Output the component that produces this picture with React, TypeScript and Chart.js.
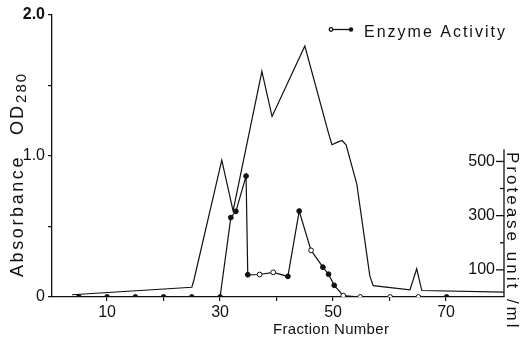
import React, { useEffect, useRef } from 'react';
import { Chart, registerables } from 'chart.js';

Chart.register(...registerables);

// ---- Data ----
// Absorbance (OD280) trace, fraction number vs absorbance
const absFraction = [3.8, 25.0, 25.4, 30.3, 32.3, 37.4, 39.2, 45.0, 49.2, 49.8, 50.9, 51.6, 52.3, 54.2, 56.5, 57.1, 63.6, 64.8, 65.7, 80.4];
const absValues = [0.016, 0.069, 0.126, 0.97, 0.61, 1.6, 1.28, 1.78, 1.16, 1.08, 1.1, 1.11, 1.08, 0.8, 0.15, 0.08, 0.05, 0.2, 0.046, 0.035];

// Enzyme activity (protease unit/ml), right axis
const enzFraction = [5, 10, 15, 20, 25, 30, 31.9, 32.8, 34.6, 34.9, 37.0, 39.4, 42.0, 44.0, 46.1, 48.2, 49.2, 50.2, 51.8, 54.8, 60.1, 65.1, 70.1];
const enzValues = [0, 0, 0, 0, 0, 0, 293, 316, 446, 82, 83, 91, 76, 317, 172, 110, 84, 43, 5, 0, 0, 0, 0];
const enzFilled = [1, 1, 1, 1, 1, 1, 1, 1, 1, 1, 0, 0, 1, 1, 0, 1, 1, 1, 0, 0, 0, 0, 1];

// Axes / ticks
const xTickValues = [10, 20, 30, 40, 50, 60, 70];
const xTickLabels: Record<number, string> = { 10: '10', 30: '30', 50: '50', 70: '70' };
const yTickValues = [0, 0.5, 1.0, 1.5, 2.0];
const yTickLabels: Record<number, string> = { 0: '0', 1: '1.0', 2: '2.0' };
const y2TickValues = [100, 200, 300, 400, 500];
const y2TickLabels: Record<number, string> = { 100: '100', 300: '300', 500: '500' };

const legendLabel = 'Enzyme Activity';
const xTitle = 'Fraction Number';
const yTitleMain = 'Absorbance';
const yTitleOD = 'OD';
const yTitleSub = '280';
const y2Title = 'Protease unit /ml';

const INK = '#111';
const FAM = '"Liberation Sans", Arial, sans-serif';

const decor = {
  id: 'decor',
  afterDraw(chart: any) {
    const ctx: CanvasRenderingContext2D = chart.ctx;
    const { right, bottom } = chart.chartArea;
    const y2 = chart.scales.y2;
    ctx.save();
    ctx.fillStyle = INK;
    ctx.strokeStyle = INK;

    // right axis line + ticks + labels
    ctx.lineWidth = 1.3;
    ctx.beginPath();
    ctx.moveTo(right, y2.getPixelForValue(545));
    ctx.lineTo(right, bottom);
    ctx.stroke();
    ctx.font = `16px ${FAM}`;
    ctx.textAlign = 'right';
    ctx.textBaseline = 'middle';
    for (const v of y2TickValues) {
      const py = y2.getPixelForValue(v);
      const lab = y2TickLabels[v];
      const len = lab ? 8 : 4;
      ctx.beginPath();
      ctx.moveTo(right - len, py);
      ctx.lineTo(right, py);
      ctx.stroke();
      if (lab) ctx.fillText(lab, right - 9, py);
    }

    // right axis title (rotated clockwise)
    ctx.save();
    ctx.translate(right + 3, 152);
    ctx.rotate(Math.PI / 2);
    ctx.font = `17px ${FAM}`;
    (ctx as any).letterSpacing = '3px';
    ctx.textAlign = 'left';
    ctx.textBaseline = 'alphabetic';
    ctx.fillText(y2Title, 0, 0);
    ctx.restore();

    // left axis title (rotated counter-clockwise) with subscript
    ctx.save();
    ctx.translate(23, 277);
    ctx.rotate(-Math.PI / 2);
    ctx.textAlign = 'left';
    ctx.textBaseline = 'alphabetic';
    ctx.font = `18px ${FAM}`;
    (ctx as any).letterSpacing = '2.6px';
    ctx.fillText(yTitleMain, 0, 0);
    const w = ctx.measureText(yTitleMain).width;
    let xx = w + 20;
    (ctx as any).letterSpacing = '2px';
    ctx.fillText(yTitleOD, xx, 0);
    xx += ctx.measureText(yTitleOD).width + 1;
    ctx.font = `15px ${FAM}`;
    (ctx as any).letterSpacing = '2px';
    ctx.fillText(yTitleSub, xx, 3);
    ctx.restore();

    // x title
    ctx.save();
    ctx.font = `15px ${FAM}`;
    (ctx as any).letterSpacing = '0.3px';
    ctx.textAlign = 'left';
    ctx.textBaseline = 'alphabetic';
    ctx.fillText(xTitle, 273, 334);
    ctx.restore();

    // legend
    ctx.save();
    ctx.lineWidth = 1.3;
    ctx.beginPath();
    ctx.moveTo(331, 29.5);
    ctx.lineTo(351, 29.5);
    ctx.stroke();
    ctx.beginPath();
    ctx.arc(331, 29.5, 1.8, 0, Math.PI * 2);
    ctx.fillStyle = '#fff';
    ctx.fill();
    ctx.stroke();
    ctx.beginPath();
    ctx.arc(351, 29.5, 2.2, 0, Math.PI * 2);
    ctx.fillStyle = INK;
    ctx.fill();
    ctx.font = `16px ${FAM}`;
    (ctx as any).letterSpacing = '2px';
    ctx.textAlign = 'left';
    ctx.textBaseline = 'middle';
    ctx.fillText(legendLabel, 364, 33);
    ctx.restore();

    ctx.restore();
  },
};

export default function App() {
  const ref = useRef<HTMLCanvasElement>(null);
  useEffect(() => {
    const canvas = ref.current!;
    const chart = new Chart(canvas, {
      type: 'line',
      data: {
        datasets: [
          {
            label: 'Absorbance OD280',
            data: absFraction.map((x, i) => ({ x, y: absValues[i] })),
            borderColor: INK,
            borderWidth: 1.2,
            pointRadius: 0,
            tension: 0,
            yAxisID: 'y',
          },
          {
            label: legendLabel,
            data: enzFraction.map((x, i) => ({ x, y: enzValues[i] })),
            borderColor: INK,
            borderWidth: 1.2,
            pointRadius: 2.4,
            pointBackgroundColor: enzFilled.map((f) => (f ? INK : '#fff')),
            pointBorderColor: INK,
            pointBorderWidth: 1,
            tension: 0,
            yAxisID: 'y2',
          },
        ],
      },
      options: {
        responsive: false,
        animation: false,
        devicePixelRatio: 1,
        layout: { padding: { top: 15, right: 17, left: 0, bottom: 0 } },
        plugins: { legend: { display: false }, tooltip: { enabled: false } },
        scales: {
          x: {
            type: 'linear',
            min: 0.25,
            max: 80.25,
            afterBuildTicks: (s: any) => {
              s.ticks = xTickValues.map((v) => ({ value: v }));
            },
            afterFit: (s: any) => {
              s.height = 44;
            },
            ticks: {
              callback: (v: any) => xTickLabels[v] ?? '',
              font: { family: FAM, size: 16 },
              color: INK,
              padding: 2,
              maxRotation: 0,
              autoSkip: false,
            },
            grid: { drawOnChartArea: false, tickLength: 4, color: INK, lineWidth: 1.2 },
            border: { color: INK, width: 1.3 },
          },
          y: {
            type: 'linear',
            position: 'left',
            min: 0,
            max: 2,
            afterBuildTicks: (s: any) => {
              s.ticks = yTickValues.map((v) => ({ value: v }));
            },
            afterFit: (s: any) => {
              s.width = 52;
            },
            ticks: {
              callback: (v: any) => yTickLabels[v] ?? '',
              font: (c: any) => ({ family: FAM, size: 16, weight: c.tick && c.tick.value === 2 ? 'bold' : 'normal' }),
              color: INK,
              padding: 3,
            },
            grid: { drawOnChartArea: false, tickLength: 4, color: INK, lineWidth: 1.2 },
            border: { color: INK, width: 1.3 },
          },
          y2: {
            type: 'linear',
            position: 'right',
            display: false,
            min: 0,
            max: 1040,
          },
        },
      },
      plugins: [decor],
    });
    return () => chart.destroy();
  }, []);
  return (
    <div style={{ position: 'fixed', left: 0, top: 0, width: 521, height: 341, background: '#fff' }}>
      <canvas ref={ref} width={521} height={341} style={{ display: 'block' }} />
    </div>
  );
}
